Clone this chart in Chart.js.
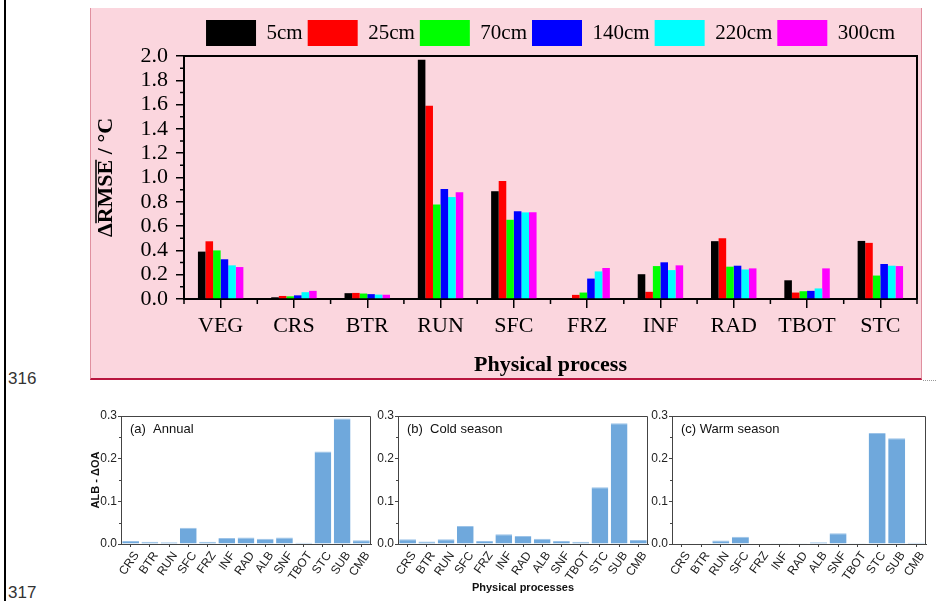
<!DOCTYPE html>
<html>
<head>
<meta charset="utf-8">
<script src="https://cdn.jsdelivr.net/npm/chart.js@4.4.1/dist/chart.umd.min.js"></script>
<style>
  html, body { margin: 0; padding: 0; background: #fff; }
  body { width: 936px; height: 601px; position: relative; overflow: hidden; }
  .abs { position: absolute; }
  #margin { left: 4px; top: 0; width: 2px; height: 601px; background: #000; }
  .lineno { font-family: "Liberation Sans", Arial, sans-serif; font-size: 17px; color: #333; left: 8px; line-height: 20px; }
  #pink { left: 90px; top: 8px; width: 830px; height: 370px; background: #fbd6de;
          border-left: 1px solid #e0909f; border-right: 1px solid #e0909f; border-bottom: 2px solid #b8163f; }
  #dots { left: 923px; top: 380px; width: 13px; border-top: 1px dotted #999; }
</style>
</head>
<body>
<div id="margin" class="abs"></div>
<div class="abs lineno" style="top:369px">316</div>
<div class="abs lineno" style="top:583px">317</div>
<div id="pink" class="abs"></div>
<div id="dots" class="abs"></div>
<div class="abs" style="left:90px;top:8px;width:832px;height:372px"><canvas id="main"></canvas></div>
<div class="abs" style="left:80px;top:405px;width:300px;height:196px"><canvas id="pa"></canvas></div>
<div class="abs" style="left:366px;top:405px;width:290px;height:196px"><canvas id="pb"></canvas></div>
<div class="abs" style="left:646px;top:405px;width:290px;height:196px"><canvas id="pc"></canvas></div>
<script>
'use strict';
// main chart: mean RMSE change per physical process, by soil depth
let cats = ['VEG', 'CRS', 'BTR', 'RUN', 'SFC', 'FRZ', 'INF', 'RAD', 'TBOT', 'STC'];
let depths = ['5cm', '25cm', '70cm', '140cm', '220cm', '300cm'];
let depthColors = ['#000000', '#ff0000', '#00ff00', '#0000ff', '#00ffff', '#ff00ff'];
let d5 = [0.39, 0.014, 0.048, 1.97, 0.887, 0, 0.204, 0.476, 0.154, 0.478];
let d25 = [0.475, 0.025, 0.05, 1.59, 0.971, 0.034, 0.059, 0.50, 0.053, 0.462];
let d70 = [0.40, 0.022, 0.045, 0.778, 0.652, 0.053, 0.271, 0.266, 0.064, 0.193];
let d140 = [0.327, 0.03, 0.04, 0.906, 0.722, 0.168, 0.302, 0.274, 0.067, 0.288];
let d220 = [0.277, 0.056, 0.036, 0.839, 0.713, 0.227, 0.238, 0.243, 0.087, 0.274];
let d300 = [0.263, 0.067, 0.035, 0.878, 0.713, 0.255, 0.277, 0.252, 0.252, 0.271];
let mainTicks = [0, 0.2, 0.4, 0.6, 0.8, 1.0, 1.2, 1.4, 1.6, 1.8, 2.0];

// small panels: ALB - dOA
let procs = ['CRS', 'BTR', 'RUN', 'SFC', 'FRZ', 'INF', 'RAD', 'ALB', 'SNF', 'TBOT', 'STC', 'SUB', 'CMB'];
let annual = [0.007, 0.005, 0.004, 0.038, 0.005, 0.014, 0.015, 0.0125, 0.015, 0.003, 0.217, 0.294, 0.0086];
let cold = [0.011, 0.006, 0.011, 0.042, 0.007, 0.023, 0.019, 0.0125, 0.007, 0.005, 0.133, 0.283, 0.0094];
let warm = [0, 0, 0.008, 0.017, 0, 0.002, 0.002, 0.004, 0.025, 0.002, 0.26, 0.248, 0.003];
let panelTicks = [0, 0.1, 0.2, 0.3];

const serif = '"Liberation Serif", "Times New Roman", serif';
const sans = '"Liberation Sans", Arial, sans-serif';

let allDepths = [d5, d25, d70, d140, d220, d300];

const mainDecor = {
  id: 'mainDecor',
  afterDraw(chart) {
    const {ctx, chartArea: a, scales: {x, y}} = chart;
    ctx.save();
    ctx.strokeStyle = '#000';
    ctx.lineWidth = 2;
    ctx.beginPath();
    ctx.moveTo(a.left, a.top);
    ctx.lineTo(a.right, a.top);
    ctx.lineTo(a.right, a.bottom);
    ctx.stroke();
    // minor ticks
    ctx.lineWidth = 1.5;
    ctx.beginPath();
    for (let i = 0; i < mainTicks.length - 1; i++) {
      const py = y.getPixelForValue((mainTicks[i] + mainTicks[i + 1]) / 2);
      ctx.moveTo(a.left, py);
      ctx.lineTo(a.left - 4, py);
    }
    for (let i = 0; i <= cats.length; i++) {
      let px;
      if (i === 0) px = a.left;
      else if (i === cats.length) px = a.right;
      else px = (x.getPixelForValue(i - 1) + x.getPixelForValue(i)) / 2;
      ctx.moveTo(px, a.bottom);
      ctx.lineTo(px, a.bottom + 5);
    }
    ctx.stroke();
    // y title with overline on RMSE
    ctx.font = 'bold 22px ' + serif;
    ctx.fillStyle = '#000';
    const parts = ['\u0394', 'RMSE', ' / \u00B0C'];
    const w = parts.map(p => ctx.measureText(p).width);
    const total = w.reduce((s, v) => s + v, 0);
    ctx.translate(16, (a.top + a.bottom) / 2);
    ctx.rotate(-Math.PI / 2);
    ctx.textBaseline = 'middle';
    ctx.textAlign = 'left';
    let cx = -total / 2;
    parts.forEach((p, i) => {
      ctx.fillText(p, cx, 0);
      if (i === 1) {
        ctx.lineWidth = 1.5;
        ctx.beginPath();
        ctx.moveTo(cx, -10);
        ctx.lineTo(cx + w[i], -10);
        ctx.stroke();
      }
      cx += w[i];
    });
    ctx.restore();
  }
};

new Chart(document.getElementById('main'), {
  type: 'bar',
  data: {
    labels: cats,
    datasets: depths.map((d, i) => ({
      label: d,
      data: allDepths[i],
      backgroundColor: depthColors[i],
      borderWidth: 0,
      barPercentage: 1,
      categoryPercentage: 0.62
    }))
  },
  options: {
    responsive: true,
    maintainAspectRatio: false,
    animation: false,
    layout: {padding: {left: 0, right: 5, top: 7, bottom: 0}},
    plugins: {
      tooltip: {enabled: false},
      legend: {
        position: 'top',
        fullSize: false,
        labels: {boxWidth: 50, boxHeight: 26, padding: 5, color: '#000', font: {family: serif, size: 21}}
      }
    },
    scales: {
      x: {
        grid: {drawOnChartArea: false, offset: false, tickLength: 9, color: '#000', lineWidth: 1.5},
        border: {color: '#000', width: 2},
        ticks: {color: '#000', font: {family: serif, size: 22}, maxRotation: 0, autoSkip: false, padding: 5},
        title: {display: true, text: 'Physical process', color: '#000', font: {family: serif, size: 22, weight: 'bold'}, padding: {top: 0, bottom: 1}},
        afterFit(s) { s.height = 81; }
      },
      y: {
        min: 0,
        max: 2,
        afterBuildTicks(s) { s.ticks = mainTicks.map(v => ({value: v})); },
        grid: {drawOnChartArea: false, tickLength: 8, color: '#000', lineWidth: 1.5},
        border: {color: '#000', width: 2},
        ticks: {color: '#000', font: {family: serif, size: 22}, padding: 8, autoSkip: false, callback: v => v.toFixed(1)},
        afterFit(s) { s.width = 94; }
      }
    }
  },
  plugins: [mainDecor]
});

function panelDecor(label) {
  return {
    id: 'panelDecor',
    afterDraw(chart) {
      const {ctx, chartArea: a, scales: {y}} = chart;
      ctx.save();
      ctx.strokeStyle = '#444';
      ctx.lineWidth = 1;
      ctx.beginPath();
      ctx.moveTo(a.left, a.top + 0.5);
      ctx.lineTo(a.right - 0.5, a.top + 0.5);
      ctx.lineTo(a.right - 0.5, a.bottom);
      for (let i = 0; i < panelTicks.length - 1; i++) {
        const py = Math.round(y.getPixelForValue((panelTicks[i] + panelTicks[i + 1]) / 2)) + 0.5;
        ctx.moveTo(a.left, py);
        ctx.lineTo(a.left - 2, py);
      }
      ctx.stroke();
      ctx.fillStyle = '#111';
      ctx.font = '13px ' + sans;
      ctx.textBaseline = 'middle';
      ctx.fillText(label, a.left + 9, a.top + 13);
      ctx.restore();
    }
  };
}

function makePanel(id, values, label, yw, padRight, xh, showY, showX) {
  new Chart(document.getElementById(id), {
    type: 'bar',
    data: {
      labels: procs,
      datasets: [{data: values, backgroundColor: '#6fa8dc', borderColor: '#9cc3e8', borderWidth: {top: 1, left: 0, right: 0, bottom: 0}, barPercentage: 0.87, categoryPercentage: 1}]
    },
    options: {
      responsive: true,
      maintainAspectRatio: false,
      animation: false,
      layout: {padding: {left: 0, right: padRight, top: 11, bottom: 0}},
      plugins: {legend: {display: false}, tooltip: {enabled: false}},
      scales: {
        x: {
          grid: {drawOnChartArea: false, offset: false, tickLength: 3, color: '#444'},
          border: {color: '#444', width: 1},
          ticks: {color: '#222', font: {family: sans, size: 12}, maxRotation: 55, minRotation: 55, autoSkip: false, padding: 2, labelOffset: 6},
          title: {display: showX, text: 'Physical processes', color: '#111', font: {family: sans, size: 11, weight: 'bold'}, padding: {top: 0, bottom: 6}},
          afterFit(s) { s.height = xh; }
        },
        y: {
          min: 0,
          max: 0.3,
          afterBuildTicks(s) { s.ticks = panelTicks.map(v => ({value: v})); },
          grid: {drawOnChartArea: false, tickLength: 3, color: '#444'},
          border: {color: '#444', width: 1},
          ticks: {color: '#222', font: {family: sans, size: 12}, padding: 1, callback: v => v.toFixed(1)},
          title: {display: showY, text: 'ALB - \u0394OA', color: '#111', font: {family: sans, size: 11, weight: 'bold'}, padding: {top: 9, bottom: 0}},
          afterFit(s) { s.width = yw; }
        }
      }
    },
    plugins: [panelDecor(label)]
  });
}

makePanel('pa', annual, '(a)  Annual', 41, 9, 57, true, false);
makePanel('pb', cold, '(b)  Cold season', 32, 8, 57, false, true);
makePanel('pc', warm, '(c) Warm season', 26, 10, 57, false, false);
</script>
</body>
</html>
